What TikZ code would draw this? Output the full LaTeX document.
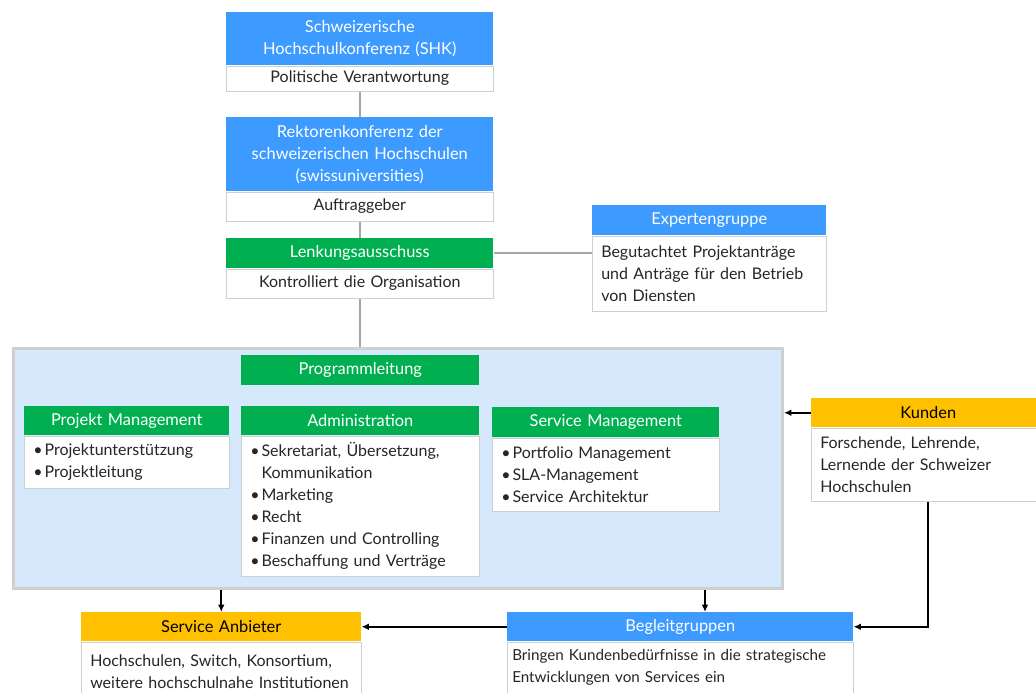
\documentclass[tikz,border=0pt]{standalone}
\usepackage{fontspec}
\setmainfont{Lato}
\usetikzlibrary{arrows.meta, positioning}
\newdimen\px \px=0.75pt
\definecolor{hsblue}{HTML}{3D9BFF}
\definecolor{hsgreen}{HTML}{00B050}
\definecolor{hsyellow}{HTML}{FFC000}
\definecolor{panelblue}{HTML}{D6E9FC}
\definecolor{boxgray}{HTML}{CFCFCF}
\definecolor{linegray}{HTML}{A6A6A6}
\newcommand{\itm}{\textbullet\kern1.5pt}
\tikzset{
  head/.style={
    rectangle,
    inner sep=0pt,
    align=center,
    anchor=north west,
    font=\fontsize{12.3}{16.5}\selectfont
  },
  bluehead/.style={head, fill=hsblue, text=white},
  greenhead/.style={head, fill=hsgreen, text=white},
  yellowhead/.style={head, fill=hsyellow, text=black},
  body/.style={
    rectangle,
    draw=boxgray,
    fill=white,
    line width=1\px,
    inner xsep=9\px,
    inner ysep=0pt,
    align=left,
    text=black!85,
    font=\fontsize{12}{16.5}\selectfont
  },
  panel/.style={
    rectangle,
    draw=boxgray,
    fill=panelblue,
    line width=3\px,
    anchor=north west
  },
  link/.style={draw=linegray, line width=2\px},
  arrow/.style={
    -{Latex[length=5.5pt, width=5pt]},
    line width=1.6\px
  }
}
\begin{document}
\begin{tikzpicture}[x=0.75pt, y=-0.75pt, node distance=0pt]
    \useasboundingbox (0,0) rectangle (1036,693);

    \node[bluehead, text width=267\px, minimum height=53\px] (shk) at (226,12) {Schweizerische\\Hochschulkonferenz (SHK)};
    \node[body, text width=249\px, minimum height=25\px, align=center, below=of shk] (shkbody) {Politische Verantwortung};
    \node[bluehead, text width=267\px, minimum height=74\px] (rk) at (226,117) {Rektorenkonferenz der\\schweizerischen Hochschulen\\(swissuniversities)};
    \node[body, text width=249\px, minimum height=29\px, align=center, below=of rk] (rkbody) {Auftraggeber};
    \node[greenhead, text width=267\px, minimum height=30\px] (lenk) at (226,238) {Lenkungsausschuss};
    \node[body, text width=249\px, minimum height=29\px, align=center, below=of lenk] (lenkbody) {Kontrolliert die Organisation};

    \node[bluehead, text width=234\px, minimum height=30\px] (expert) at (592,205) {Expertengruppe};
    \node[body, text width=216\px, minimum height=75\px, below=of expert] (expertbody) {Begutachtet Projektanträge\\und Anträge für den Betrieb\\von Diensten};

    % Programmorganisation
    \node[panel, minimum width=769\px, minimum height=240\px] (prog) at (12,347) {};
    \node[greenhead, text width=238\px, minimum height=30\px] (progl) at (241,355) {Programmleitung};

    \node[greenhead, text width=205\px, minimum height=29\px] (pm) at (24,406) {Projekt Management};
    \node[body, text width=187\px, minimum height=52\px, below=of pm] (pmbody) {\itm Projektunterstützung\\\itm Projektleitung};
    \node[greenhead, text width=238\px, minimum height=29\px] (admin) at (241,406) {Administration};
    \node[body, text width=220\px, minimum height=140\px, below=of admin] (adminbody) {\itm Sekretariat, Übersetzung,\\\phantom{\itm}Kommunikation\\\itm Marketing\\\itm Recht\\\itm Finanzen und Controlling\\\itm Beschaffung und Verträge};
    \node[greenhead, text width=227\px, minimum height=30\px] (sm) at (492,407) {Service Management};
    \node[body, text width=209\px, minimum height=73\px, below=of sm] (smbody) {\itm Portfolio Management\\\itm SLA-Management\\\itm Service Architektur};

    \node[yellowhead, text width=234\px, minimum height=29\px] (kunden) at (811,398) {Kunden};
    \node[body, text width=216\px, minimum height=73\px, below=of kunden] (kundenbody) {Forschende, Lehrende,\\Lernende der Schweizer\\Hochschulen};

    \node[yellowhead, text width=280\px, minimum height=29\px] (anbieter) at (81,612) {Service Anbieter};
    \node[body, text width=262\px, minimum height=60\px, below=of anbieter] (anbieterbody) {Hochschulen, Switch, Konsortium,\\weitere hochschulnahe Institutionen};
    \node[bluehead, text width=346\px, minimum height=29\px] (begleit) at (507,612) {Begleitgruppen};
    \node[body, text width=336\px, inner xsep=5\px, minimum height=51\px, font=\fontsize{11.4}{16.5}\selectfont, below=of begleit] (begleitbody) {\hbox{Bringen Kundenbedürfnisse in die strategische}\\Entwicklungen von Services ein};
    \coordinate (begleitin) at (705,612);

    \draw[link] (shkbody) -- (rk);
    \draw[link] (rkbody) -- (lenk);
    \draw[link] (lenk) -- (lenk -| expertbody.west);
    \draw[link] (lenkbody) -- (lenkbody |- prog.north);

    \draw[arrow] (kunden) -- (kunden -| prog.east);
    \draw[arrow] (kundenbody) |- (begleit);
    \draw[arrow] (begleit) -- (anbieter);
    \draw[arrow] (prog.south -| anbieter) -- (anbieter);
    \draw[arrow] (prog.south -| begleitin) -- (begleitin);
\end{tikzpicture}
\end{document}
